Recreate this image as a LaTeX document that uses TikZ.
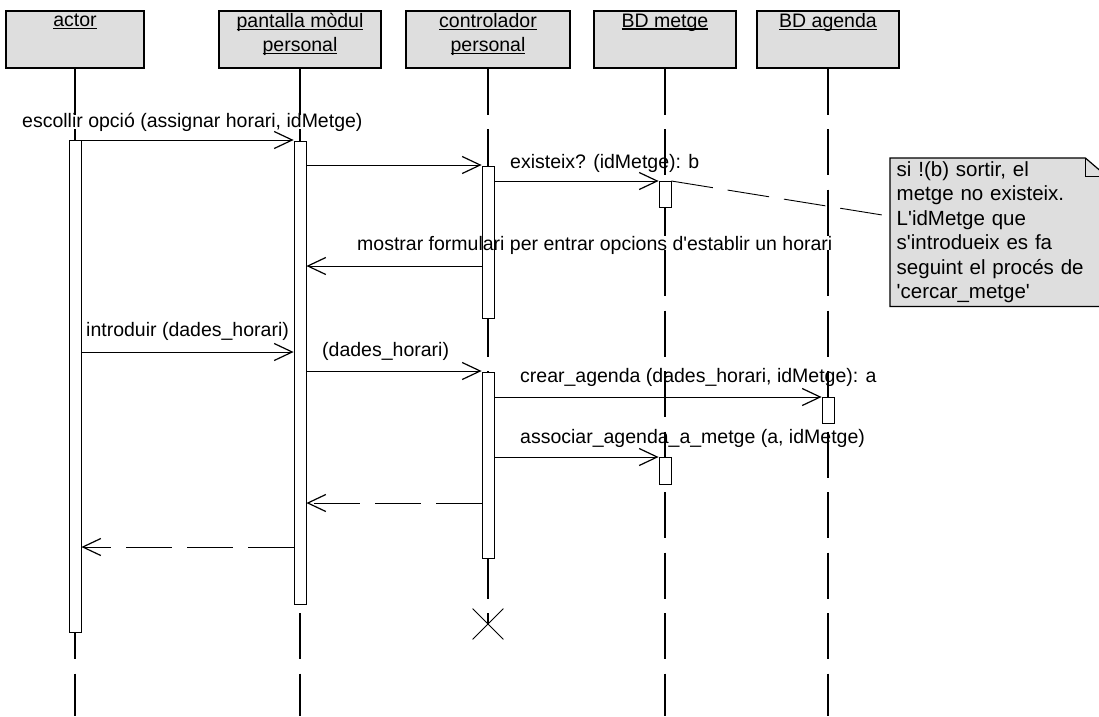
\documentclass[tikz,border=0pt]{standalone}
\usepackage{fontspec}
\setmainfont{Liberation Sans}
\usepackage{tikz}
\usetikzlibrary{arrows.meta, calc, positioning, shapes.misc, backgrounds}

\newcommand{\ulname}[1]{\setbox0\hbox{#1}\rlap{\rule[-2.6pt]{\wd0}{1.3pt}}\box0}
\newcommand{\objname}[2]{\ulname{#1}\\\ulname{#2}\rule[-14pt]{0pt}{0pt}}
\newcommand{\q}{\textquotesingle}

\tikzset{
    objbox/.style={draw, line width=1.2pt, fill=black!13, align=center, minimum height=57pt, inner sep=2pt},
    lifeline/.style={line width=1.2pt, dash pattern=on 46pt off 14.5pt},
    actbar/.style={draw, line width=0.8pt, fill=white, minimum width=12pt, inner sep=0pt, anchor=north},
    msg/.style={line width=0.8pt, -{Straight Barb[length=18pt, width=17pt, line width=1.2pt]}},
    retmsg/.style={msg, dash pattern=on 46pt off 15pt},
    lbl/.style={anchor=west, inner sep=0pt},
    notebox/.style={anchor=north west, minimum width=216pt, text width=203pt, align=left, inner ysep=3.5pt,
        font=\fontsize{20.5}{24.4}\selectfont},
}

\begin{document}
\begin{tikzpicture}[x=1pt, y=-1pt, font=\fontsize{19.5}{24.4}\selectfont]
    \useasboundingbox (0,0) rectangle (1099,716);

    % Vẽ các đối tượng
    \node[objbox, minimum width=138pt] (actor) at (75,39.5) {\objname{actor}{}};
    \node[objbox, minimum width=162pt] (pant) at (300,39.5) {\objname{pantalla mòdul}{personal}};
    \node[objbox, minimum width=164pt] (ctrl) at (488,39.5) {\objname{controlador}{personal}};
    \node[objbox, minimum width=142pt] (metge) at (665,39.5) {\objname{BD metge}{}};
    \node[objbox, minimum width=142pt] (agenda) at (828,39.5) {\objname{BD agenda}{}};

    \coordinate (bottom) at (0,716);
    \node[draw, cross out, line width=0.8pt, minimum size=30pt] (kill) at (488,624) {};

    % Vẽ đường đời
    \draw[lifeline] (actor.south) -- (actor.south |- bottom);
    \draw[lifeline] (pant.south) -- (pant.south |- bottom);
    \draw[lifeline] (ctrl.south) -- (kill.center);
    \draw[lifeline] (metge.south) -- (metge.south |- bottom);
    \draw[lifeline] (agenda.south) -- (agenda.south |- bottom);

    % Vẽ thanh kích hoạt
    \node[actbar, minimum height=492pt] (bA) at (75,140) {};
    \node[actbar, minimum height=463pt] (bP) at (300,141) {};
    \node[actbar, minimum height=152pt] (bC1) at (488,166) {};
    \node[actbar, minimum height=26pt] (bM1) at (665,181) {};
    \node[actbar, minimum height=186pt] (bC2) at (488,372) {};
    \node[actbar, minimum height=26pt] (bG) at (828,397) {};
    \node[actbar, minimum height=27pt] (bM2) at (665,457) {};

    % Các mức của thông điệp
    \coordinate (y1) at (0,140);
    \coordinate (y2) at (0,165);
    \coordinate (y3) at (0,181);
    \coordinate (y4) at (0,266);
    \coordinate (y5) at (0,352);
    \coordinate (y6) at (0,371);
    \coordinate (y7) at (0,397);
    \coordinate (y8) at (0,457);
    \coordinate (y9) at (0,503);
    \coordinate (y10) at (0,547);

    % Vẽ thông điệp
    \draw[msg] (bA.east |- y1) -- (bP.west |- y1);
    \draw[msg] (bP.east |- y2) -- (bC1.west |- y2);
    \draw[msg] (bC1.east |- y3) -- (bM1.west |- y3);
    \draw[msg] (bC1.west |- y4) -- (bP.east |- y4);
    \draw[msg] (bA.east |- y5) -- (bP.west |- y5);
    \draw[msg] (bP.east |- y6) -- (bC2.west |- y6);
    \draw[msg] (bC2.east |- y7) -- (bG.west |- y7);
    \draw[msg] (bC2.east |- y8) -- (bM2.west |- y8);
    \draw[retmsg] (bC2.west |- y9) -- (bP.east |- y9);
    \draw[retmsg] (bP.west |- y10) -- (bA.east |- y10);

    \node[lbl] (t1) at (22,122) {escollir opció (assignar horari, idMetge)};
    \node[lbl] (t3) at (510,163) {existeix? (idMetge): b};
    \node[lbl] (t4) at (357,245) {mostrar formulari per entrar opcions d\q establir un horari};
    \node[lbl] (t5) at (86,331) {introduir (dades\_horari)};
    \node[lbl] (t6) at (322,351) {(dades\_horari)};
    \node[lbl] (t7) at (520,377) {crear\_agenda (dades\_horari, idMetge): a};
    \node[lbl] (t8) at (520,438) {associar\_agenda\_a\_metge (a, idMetge)};

    % Vẽ ghi chú
    \node[notebox] (note) at (890,158) {si !(b) sortir, el\\metge no existeix.\\L\q idMetge que\\s\q introdueix es fa\\seguint el procés de\\\q cercar\_metge\q};
    \begin{scope}[on background layer]
        \draw[line width=1.2pt, fill=black!13] (note.south west) -- (note.north west) -- ([xshift=-21pt]note.north east)
            -- ([yshift=-18pt]note.north east) -- (note.south east) -- cycle;
        \draw[line width=0.8pt] ([xshift=-21pt]note.north east) |- ([yshift=-18pt]note.north east);
    \end{scope}
    \draw[line width=0.9pt, dash pattern=on 42pt off 15pt] (bM1.north east) -- ([yshift=16pt]note.west);
\end{tikzpicture}
\end{document}
